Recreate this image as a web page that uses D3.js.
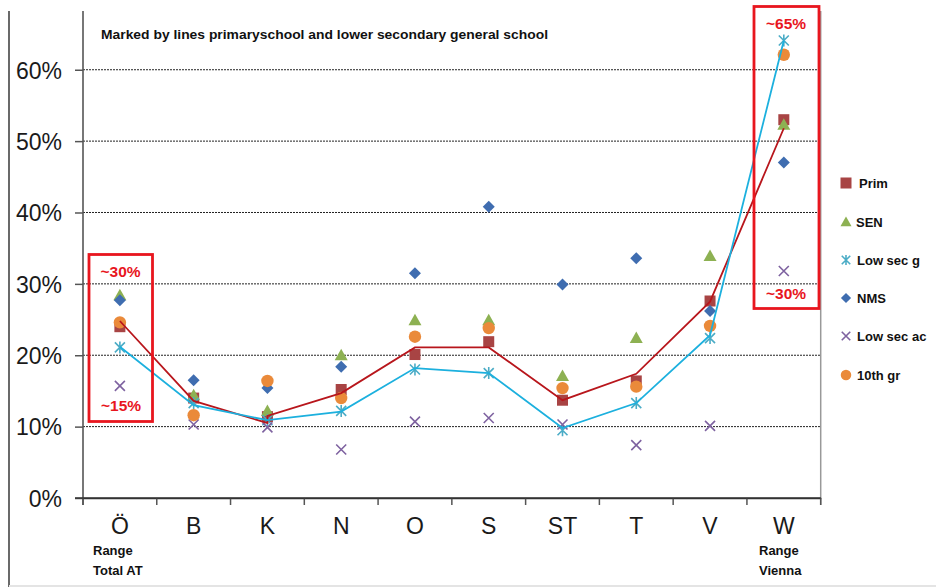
<!DOCTYPE html>
<html><head><meta charset="utf-8">
<script src="https://cdnjs.cloudflare.com/ajax/libs/d3/7.8.5/d3.min.js"></script>
<style>html,body{margin:0;padding:0;background:#fff;}svg{display:block;}</style>
</head><body>
<script>
// ---- data (percent) ----
const categories = ["Ö","B","K","N","O","S","ST","T","V","W"];
const seriesNames = ["Prim","SEN","Low sec g","NMS","Low sec ac","10th gr"];
const prim     = [24.0,14.0,11.4,15.2,20.1,21.9,13.7,16.4,27.6,53.0];
const sen      = [28.4,14.4,12.2,20.0,24.9,24.9,17.1,22.4,33.9,52.3];
const lowSecG  = [21.1,13.3,10.9,12.2,18.0,17.5, 9.5,13.3,22.4,64.1];
const nms      = [27.7,16.5,15.4,18.4,31.5,40.8,29.9,33.6,26.2,47.0];
const lowSecAc = [15.7,10.3, 9.9, 6.8,10.7,11.2,10.3, 7.4,10.1,31.8];
const tenthGr  = [24.6,11.6,16.4,14.0,22.6,23.8,15.4,15.6,24.1,62.1];
// hand-drawn marking lines
const primLineCats = ["Ö","B","K","K","N","O","S","ST","T","V","W"];
const primLineVals = [24.8,13.6,10.5,11.5,14.7,21.1,21.1,13.7,17.4,27.5,51.8];
const lowSecLineVals = [21.2,13.0,10.9,12.1,18.2,17.5,9.8,13.3,22.8,64.1];
const yTicks = [0,10,20,30,40,50,60];
const title = "Marked by lines primaryschool and lower secondary general school";

const W = 936, H = 587;
const svg = d3.select("body").append("svg").attr("width", W).attr("height", H);
const pLeft = 83, pRight = 820.7, pTop = 11, pBottom = 498;

const x = d3.scaleBand().domain(categories).range([pLeft, pRight]).padding(0);
const y = d3.scaleLinear().domain([0, 68.23]).range([pBottom, pTop]);
const cx = c => x(c) + x.bandwidth() / 2;

// outer left line and bottom faint line
svg.append("line").attr("x1", 9).attr("x2", 9).attr("y1", 11).attr("y2", 587)
  .attr("stroke", "#444").attr("stroke-width", 1.6);
svg.append("line").attr("x1", 9).attr("x2", W).attr("y1", 586).attr("y2", 586)
  .attr("stroke", "#e4e4e4").attr("stroke-width", 2);

// gridlines
svg.append("g").selectAll("line").data(yTicks.filter(d => d > 0)).join("line")
  .attr("x1", pLeft).attr("x2", pRight).attr("y1", d => y(d)).attr("y2", d => y(d))
  .attr("stroke", "#222").attr("stroke-width", 1).attr("stroke-dasharray", "2,1");

// plot right border
svg.append("line").attr("x1", pRight).attr("x2", pRight).attr("y1", pTop).attr("y2", pBottom + 7)
  .attr("stroke", "#999").attr("stroke-width", 1.5);

// y axis
const yAxis = svg.append("g").attr("transform", `translate(${pLeft},0)`)
  .call(d3.axisLeft(y).tickValues(yTicks).tickSize(8).tickPadding(13).tickFormat(d => d + "%"));
yAxis.select(".domain").remove();
yAxis.selectAll(".tick line").attr("stroke", "#555").attr("stroke-width", 1.5);
yAxis.selectAll("text").attr("font-family", "Liberation Sans, Arial, sans-serif")
  .attr("font-size", 23).attr("fill", "#1a1a1a").attr("dy", "0.36em");
svg.append("line").attr("x1", pLeft).attr("x2", pLeft).attr("y1", pTop).attr("y2", pBottom + 7)
  .attr("stroke", "#555").attr("stroke-width", 1.6);

// x axis
const xAxis = svg.append("g").attr("transform", `translate(0,${pBottom})`)
  .call(d3.axisBottom(x).tickSize(0).tickPadding(20));
xAxis.select(".domain").attr("stroke", "#333").attr("stroke-width", 1.6);
xAxis.selectAll("text").attr("font-family", "Liberation Sans, Arial, sans-serif")
  .attr("font-size", 23).attr("fill", "#1a1a1a");
const bounds = categories.map(c => x(c)).concat([pRight]);
svg.append("g").selectAll("line").data(bounds).join("line")
  .attr("x1", d => d).attr("x2", d => d).attr("y1", pBottom).attr("y2", pBottom + 7)
  .attr("stroke", "#555").attr("stroke-width", 1.5);
svg.append("line").attr("x1", pLeft - 8).attr("x2", pRight).attr("y1", pBottom).attr("y2", pBottom)
  .attr("stroke", "#333").attr("stroke-width", 1.6);

// markers
const colors = {"Prim":"#A84444","SEN":"#8DB152","Low sec g":"#4BACC6","NMS":"#3F6DB0","Low sec ac":"#7E62A0","10th gr":"#EA8A3A"};
function drawMarker(g, name, px, py, scale) {
  const s = scale || 1;
  const c = colors[name];
  if (name === "Prim") {
    g.append("rect").attr("x", px - 5.5*s).attr("y", py - 5.5*s).attr("width", 11*s).attr("height", 11*s).attr("fill", c);
  } else if (name === "SEN") {
    g.append("path").attr("d", `M${px},${py-6.5*s}L${px+6.5*s},${py+5*s}L${px-6.5*s},${py+5*s}Z`).attr("fill", c);
  } else if (name === "NMS") {
    g.append("path").attr("d", `M${px},${py-6*s}L${px+6*s},${py}L${px},${py+6*s}L${px-6*s},${py}Z`).attr("fill", c);
  } else if (name === "10th gr") {
    g.append("circle").attr("cx", px).attr("cy", py).attr("r", 6.2*s).attr("fill", c);
  } else if (name === "Low sec g") {
    const r = 5*s;
    g.append("path").attr("d", `M${px-r},${py-r}L${px+r},${py+r}M${px-r},${py+r}L${px+r},${py-r}M${px},${py-r*1.2}L${px},${py+r*1.2}`)
      .attr("stroke", c).attr("stroke-width", 1.6).attr("fill", "none");
  } else if (name === "Low sec ac") {
    const r = 5*s;
    g.append("path").attr("d", `M${px-r},${py-r}L${px+r},${py+r}M${px-r},${py+r}L${px+r},${py-r}`)
      .attr("stroke", c).attr("stroke-width", 1.6).attr("fill", "none");
  }
}
const seriesData = [prim, sen, lowSecG, nms, lowSecAc, tenthGr];
const mg = svg.append("g");
seriesNames.forEach((n, i) => {
  seriesData[i].forEach((v, j) => drawMarker(mg, n, cx(categories[j]), y(v)));
});

// marking lines
const line = d3.line().x(d => cx(d[0])).y(d => y(d[1]));
svg.append("path").datum(primLineCats.map((c, i) => [c, primLineVals[i]]))
  .attr("d", line).attr("fill", "none").attr("stroke", "#B8161C").attr("stroke-width", 1.8);
svg.append("path").datum(categories.map((c, i) => [c, lowSecLineVals[i]]))
  .attr("d", line).attr("fill", "none").attr("stroke", "#1CB0DE").attr("stroke-width", 1.8);

// title
svg.append("text").attr("x", 101).attr("y", 39).text(title)
  .attr("font-family", "Liberation Sans, Arial, sans-serif").attr("font-weight", "bold")
  .attr("font-size", 13).attr("fill", "#111")
  .attr("textLength", 447).attr("lengthAdjust", "spacingAndGlyphs");

// legend
const legendY = [183, 222, 260, 298, 336, 375];
const legendTx = [859, 856, 857, 857, 857, 857];
const lg = svg.append("g");
seriesNames.forEach((n, i) => {
  drawMarker(lg, n, 846, legendY[i], n === "Prim" ? 1 : 0.85);
  lg.append("text").attr("x", legendTx[i]).attr("y", legendY[i] + 5).text(n)
    .attr("font-family", "Liberation Sans, Arial, sans-serif").attr("font-weight", "bold")
    .attr("font-size", 13).attr("fill", "#111");
});

// red range boxes
const red = "#E8161E";
svg.append("rect").attr("x", 89).attr("y", 254.5).attr("width", 63.5).attr("height", 167)
  .attr("fill", "none").attr("stroke", red).attr("stroke-width", 2.8);
svg.append("rect").attr("x", 754).attr("y", 6.5).attr("width", 65).attr("height", 302)
  .attr("fill", "none").attr("stroke", red).attr("stroke-width", 2.8);
const ann = [[120.5, 277, "~30%"], [121, 411, "~15%"], [786, 29, "~65%"], [786, 299, "~30%"]];
svg.append("g").selectAll("text").data(ann).join("text")
  .attr("x", d => d[0]).attr("y", d => d[1]).text(d => d[2]).attr("text-anchor", "middle")
  .attr("font-family", "Liberation Sans, Arial, sans-serif").attr("font-weight", "bold")
  .attr("font-size", 15.5).attr("fill", red);

// range notes under axis
const notes = [[93, 555, "Range"], [93, 575, "Total AT"], [759, 555, "Range"], [759, 575, "Vienna"]];
svg.append("g").selectAll("text").data(notes).join("text")
  .attr("x", d => d[0]).attr("y", d => d[1]).text(d => d[2])
  .attr("font-family", "Liberation Sans, Arial, sans-serif").attr("font-weight", "bold")
  .attr("font-size", 13).attr("fill", "#111");
</script>
</body></html>
